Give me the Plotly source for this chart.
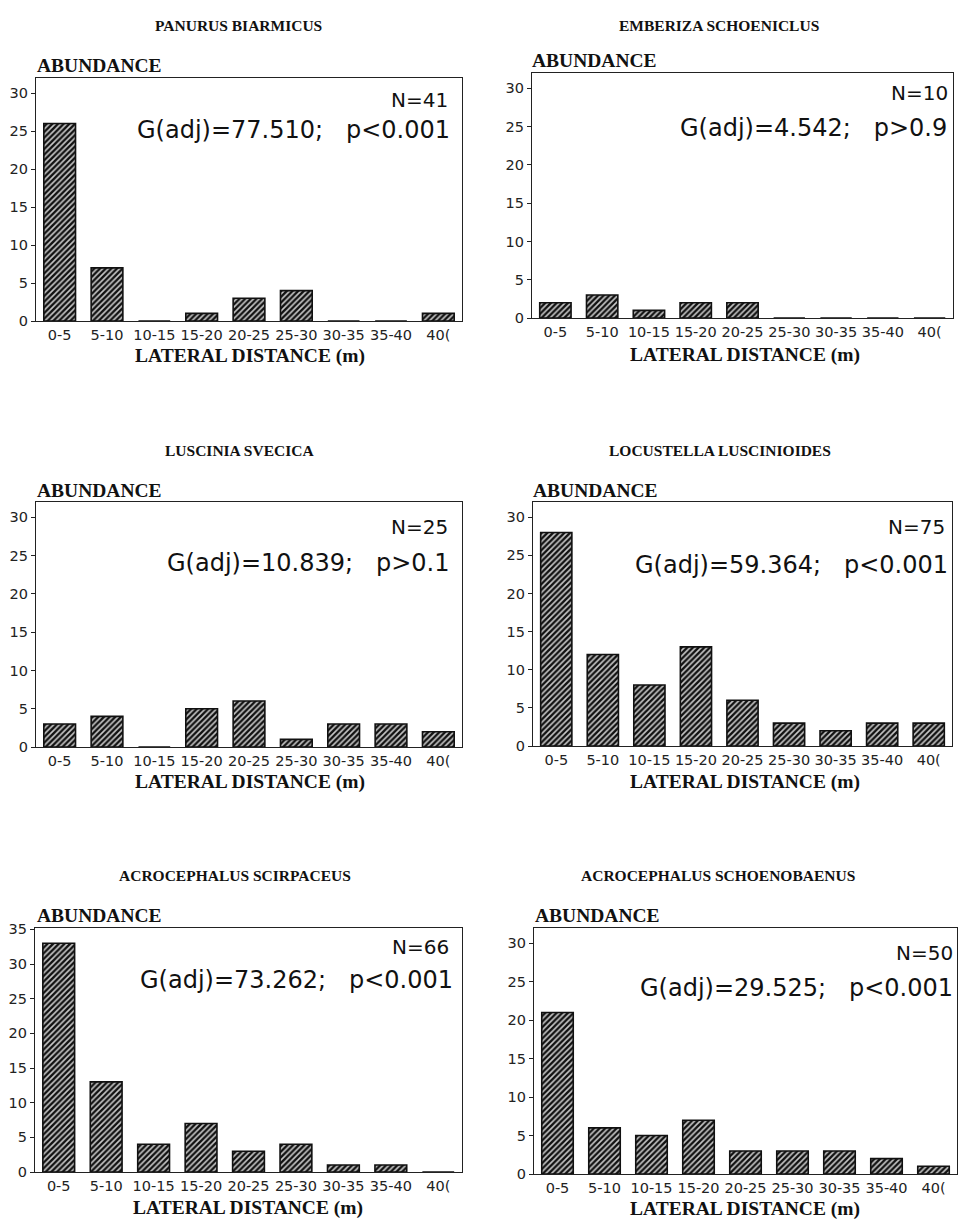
import plotly.graph_objects as go

W, H = 960, 1220

categories = ["0-5", "5-10", "10-15", "15-20", "20-25", "25-30", "30-35", "35-40", "40("]

species = ["PANURUS BIARMICUS", "EMBERIZA SCHOENICLUS", "LUSCINIA SVECICA",
           "LOCUSTELLA LUSCINIOIDES", "ACROCEPHALUS SCIRPACEUS", "ACROCEPHALUS SCHOENOBAENUS"]

panurus = [26, 7, 0, 1, 3, 4, 0, 0, 1]
emberiza = [2, 3, 1, 2, 2, 0, 0, 0, 0]
luscinia = [3, 4, 0, 5, 6, 1, 3, 3, 2]
locustella = [28, 12, 8, 13, 6, 3, 2, 3, 3]
scirpaceus = [33, 13, 4, 7, 3, 4, 1, 1, 0]
schoenobaenus = [21, 6, 5, 7, 3, 3, 3, 2, 1]

SP = "\u00a0\u00a0\u00a0"
n_labels = ["N=41", "N=10", "N=25", "N=75", "N=66", "N=50"]
g_labels = ["G(adj)=77.510;" + SP + "p&lt;0.001", "G(adj)=4.542;" + SP + "p&gt;0.9",
            "G(adj)=10.839;" + SP + "p&gt;0.1", "G(adj)=59.364;" + SP + "p&lt;0.001",
            "G(adj)=73.262;" + SP + "p&lt;0.001", "G(adj)=29.525;" + SP + "p&lt;0.001"]
y_max = [32, 32, 32, 32, 35.2, 32]
y_ticks = [list(range(0, 31, 5))] * 4 + [list(range(0, 36, 5)), list(range(0, 31, 5))]

series = [panurus, emberiza, luscinia, locustella, scirpaceus, schoenobaenus]

# layout in pixels: (left, right, top, bottom)
boxes = [(36, 462, 78, 321), (532, 953, 73, 318), (36, 462, 502, 747),
         (533, 952, 502, 746), (35, 462, 928, 1172), (534, 957, 928, 1174)]
title_pos = [(238, 26), (719, 26), (239, 450), (720, 450), (235, 875), (718, 875)]
abund_pos = [(35, 65), (530, 60), (35, 490), (531, 490), (35, 915), (533, 915)]
xt_pos = [(250, 356), (745, 355), (250, 782), (745, 782), (248, 1208), (745, 1209)]
n_pos = [(450, 100), (950, 93), (450, 527), (947, 527), (451, 947), (955, 953)]
g_pos = [(452, 130), (949, 128), (452, 563), (950, 565), (455, 980), (955, 988)]

px = lambda x: x / W
py = lambda y: 1 - y / H

fig = go.Figure()
annotations = []
for i, vals in enumerate(series):
    k = "" if i == 0 else str(i + 1)
    l, r, t, b = boxes[i]
    fig.add_trace(go.Bar(
        x=categories, y=vals, xaxis="x" + k, yaxis="y" + k,
        marker=dict(color="#b8b8b8", line=dict(color="#111", width=1.6),
                    pattern=dict(shape="/", fgcolor="#111", bgcolor="#c8c8c8", size=4, solidity=0.6)),
        showlegend=False, hoverinfo="x+y"))
    fig.layout["xaxis" + k] = dict(
        domain=[px(l), px(r)], anchor="y" + k, type="category", categoryorder="array",
        categoryarray=categories, showline=True, linecolor="#222", linewidth=1.3, mirror=True,
        ticks="", showgrid=False, automargin=False,
        tickfont=dict(family="DejaVu Sans", size=14.5, color="#222"))
    fig.layout["yaxis" + k] = dict(
        domain=[py(b), py(t)], anchor="x" + k, range=[0, y_max[i]], tickvals=y_ticks[i],
        showline=True, linecolor="#222", linewidth=1.3, mirror=True, ticks="outside",
        ticklen=4, tickcolor="#222", showgrid=False, zeroline=False, automargin=False,
        tickfont=dict(family="DejaVu Sans", size=14.5, color="#222"))
    annotations += [
        dict(text="<b>" + species[i] + "</b>", x=px(title_pos[i][0]), y=py(title_pos[i][1]),
             xref="paper", yref="paper", showarrow=False, xanchor="center", yanchor="middle",
             font=dict(family="Liberation Serif", size=15.5, color="#111")),
        dict(text="<b>ABUNDANCE</b>", x=px(abund_pos[i][0]), y=py(abund_pos[i][1]), xref="paper", yref="paper",
             showarrow=False, xanchor="left", yanchor="middle",
             font=dict(family="Liberation Serif", size=19.5, color="#111")),
        dict(text="<b>LATERAL DISTANCE (m)</b>", x=px(xt_pos[i][0]), y=py(xt_pos[i][1]), xref="paper",
             yref="paper", showarrow=False, xanchor="center", yanchor="middle",
             font=dict(family="Liberation Serif", size=19.5, color="#111")),
        dict(text=n_labels[i], x=px(n_pos[i][0]), y=py(n_pos[i][1]), xref="paper", yref="paper",
             showarrow=False, xanchor="right", yanchor="middle",
             font=dict(family="DejaVu Sans", size=20, color="#111")),
        dict(text=g_labels[i], x=px(g_pos[i][0]), y=py(g_pos[i][1]), xref="paper", yref="paper",
             showarrow=False, xanchor="right", yanchor="middle",
             font=dict(family="DejaVu Sans", size=24, color="#111")),
    ]

fig.update_layout(width=W, height=H, margin=dict(l=0, r=0, t=0, b=0, autoexpand=False),
                  paper_bgcolor="white", plot_bgcolor="white", bargap=0.33,
                  annotations=annotations, template="none")
fig.write_html("out.html", config={"displayModeBar": False},
               post_script="document.body.style.margin='0';document.body.style.overflow='hidden';")
